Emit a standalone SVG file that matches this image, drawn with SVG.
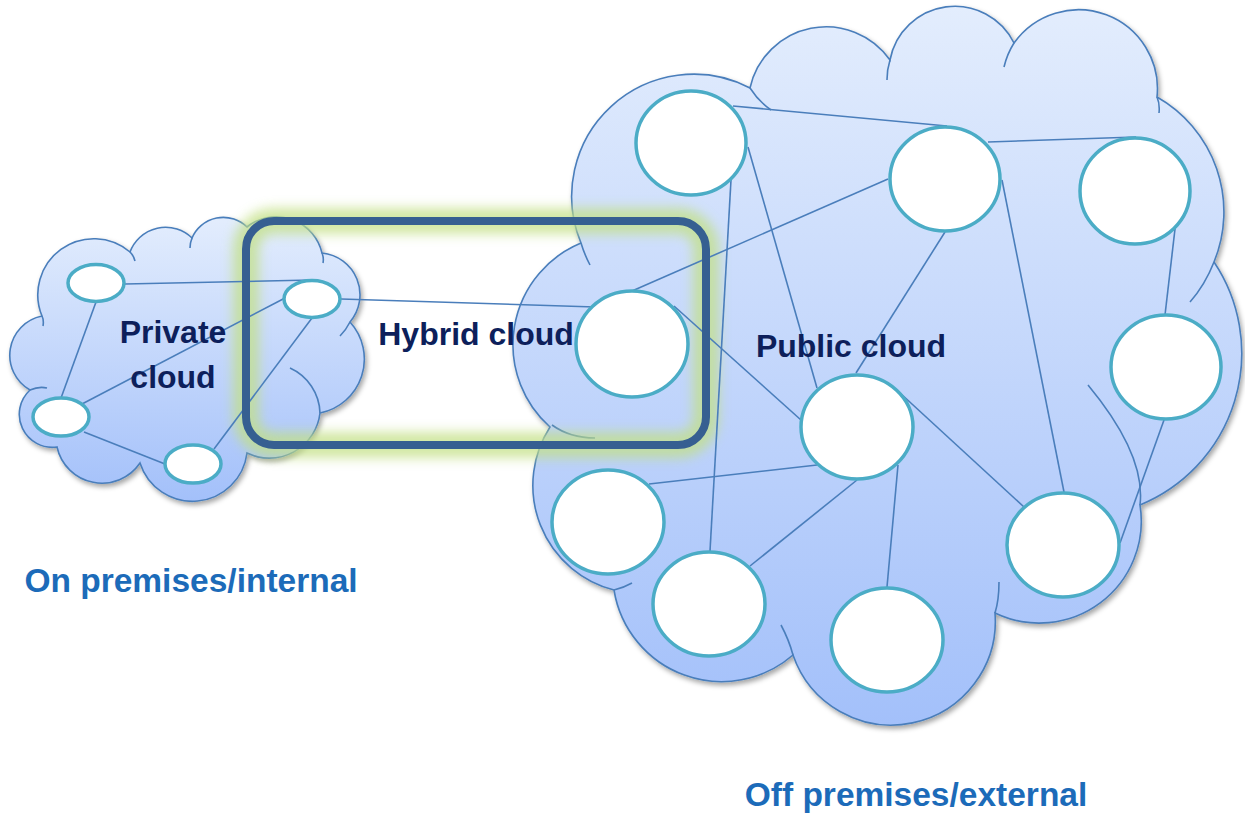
<svg xmlns="http://www.w3.org/2000/svg" width="1245" height="840" viewBox="0 0 1245 840">
<defs>
  <linearGradient id="cloudFill" x1="0" y1="0" x2="0" y2="1">
    <stop offset="0" stop-color="#e3edfd"/>
    <stop offset="1" stop-color="#a3c0fa"/>
  </linearGradient>
  <filter id="shadow" x="-10%" y="-10%" width="120%" height="125%">
    <feDropShadow dx="2" dy="3" stdDeviation="2.5" flood-color="#000" flood-opacity="0.35"/>
  </filter>
  <filter id="glow" x="-20%" y="-30%" width="140%" height="160%">
    <feGaussianBlur stdDeviation="6"/>
  </filter>
  <style>
    .cloud { fill: url(#cloudFill); stroke: #4a7ebb; stroke-width: 1.6; }
    .inner { fill: none; stroke: #4a7ebb; stroke-width: 1.6; }
    .edge { stroke: #4a7ebb; stroke-width: 1.6; fill: none; }
    .node { fill: #ffffff; stroke: #4bacc6; stroke-width: 3.5; }
    .label { font-family: "Liberation Sans", Arial, sans-serif; font-weight: bold; text-anchor: middle; }
    .cl { fill: #0d1f5b; font-size: 32px; }
    .loc { fill: #1c6bb9; font-size: 33.5px; }
  </style>
</defs>

<g id="private-cloud">
  <path class="cloud" filter="url(#shadow)" d="M 42 316 A 56 56 0 0 1 130 252 A 38 38 0 0 1 192 238 A 34 34 0 0 1 247 227 A 47 47 0 0 1 322 253 A 42 42 0 0 1 350 322 A 55 55 0 0 1 320 413 A 51 51 0 0 1 247 453 A 55 55 0 0 1 140 463 A 46 46 0 0 1 57 447 A 33 33 0 0 1 30 390 A 40 40 0 0 1 42 316 Z"/>
  <path class="inner" d="M 42 316 Q 44 320 43 326 M 130 252 Q 134 256 135 261 M 192 238 Q 190 243 190 248 M 322 253 Q 324 258 323 263 M 350 322 Q 346 330 340 336 M 290 368 A 51 51 0 0 1 320 413 M 30 390 Q 39 386 47 388"/>
</g>

<g id="public-cloud">
  <path class="cloud" filter="url(#shadow)" d="M 581 243 A 122 122 0 0 1 750 88 A 78 78 0 0 1 890 60 A 66 66 0 0 1 1014 43 A 79 79 0 0 1 1157 97 A 132 132 0 0 1 1214 262 A 164 164 0 0 1 1140 505 A 102 102 0 0 1 995 613 A 104 104 0 0 1 793 655 A 109 109 0 0 1 614 590 A 108 108 0 0 1 550 427 A 110 110 0 0 1 581 243 Z"/>
  <path class="inner" d="M 590 265 A 122 122 0 0 1 581 243 M 771 110 A 78 78 0 0 1 750 88 M 887 80 A 66 66 0 0 1 890 60 M 1004 67 A 79 79 0 0 1 1014 43 M 1157 97 Q 1160 104 1159 113 M 1214 262 Q 1205 285 1190 302 M 1088 385 Q 1146 455 1140 505 M 999 582 Q 999 600 995 613 M 781 625 Q 789 640 793 655 M 614 590 Q 623 588 632 583 M 552 425 Q 570 438 595 438"/>
</g>

<g id="hybrid-glow">
  <rect x="246" y="221" width="460" height="224" rx="28" ry="28" fill="none" stroke="#c2e084" stroke-width="26" opacity="0.75" filter="url(#glow)"/>
</g>

<g id="connectors">
  <line class="edge" x1="125" y1="284" x2="312" y2="280"/>
  <line class="edge" x1="96" y1="302" x2="61" y2="398"/>
  <line class="edge" x1="82" y1="404" x2="285" y2="298"/>
  <line class="edge" x1="84" y1="432" x2="165" y2="464"/>
  <line class="edge" x1="214" y1="449" x2="312" y2="318"/>
  <line class="edge" x1="341" y1="299" x2="595" y2="307"/>
  <line class="edge" x1="733" y1="106" x2="947" y2="126"/>
  <line class="edge" x1="731" y1="180" x2="710" y2="551"/>
  <line class="edge" x1="748" y1="147" x2="817" y2="388"/>
  <line class="edge" x1="988" y1="142" x2="1136" y2="137"/>
  <line class="edge" x1="888" y1="179" x2="632" y2="291"/>
  <line class="edge" x1="945" y1="232" x2="856" y2="373"/>
  <line class="edge" x1="1002" y1="180" x2="1064" y2="492"/>
  <line class="edge" x1="1175" y1="229" x2="1165" y2="315"/>
  <line class="edge" x1="674" y1="306" x2="801" y2="420"/>
  <line class="edge" x1="817" y1="465" x2="649" y2="484"/>
  <line class="edge" x1="857" y1="480" x2="750" y2="566"/>
  <line class="edge" x1="898" y1="465" x2="887" y2="587"/>
  <line class="edge" x1="900" y1="393" x2="1024" y2="507"/>
  <line class="edge" x1="1164" y1="420" x2="1120" y2="543"/>
</g>

<g id="hybrid-box">
  <rect x="246" y="221" width="460" height="224" rx="28" ry="28" fill="none" stroke="#365f91" stroke-width="8"/>
</g>

<g id="node-a"><ellipse class="node" cx="96" cy="283" rx="28" ry="18.5"/></g>
<g id="node-b"><ellipse class="node" cx="312" cy="299" rx="28" ry="18.5"/></g>
<g id="node-c"><ellipse class="node" cx="61" cy="417" rx="28" ry="19"/></g>
<g id="node-d"><ellipse class="node" cx="193" cy="464" rx="28" ry="19"/></g>

<g id="node-p1"><ellipse class="node" cx="691" cy="143" rx="55" ry="52"/></g>
<g id="node-p2"><ellipse class="node" cx="945" cy="179" rx="55" ry="52"/></g>
<g id="node-p3"><ellipse class="node" cx="1135" cy="191" rx="55" ry="53"/></g>
<g id="node-p4"><ellipse class="node" cx="632" cy="344" rx="56" ry="53"/></g>
<g id="node-p5"><ellipse class="node" cx="1166" cy="367" rx="55" ry="52"/></g>
<g id="node-p6"><ellipse class="node" cx="857" cy="427" rx="56" ry="52"/></g>
<g id="node-p7"><ellipse class="node" cx="608" cy="522" rx="56" ry="52"/></g>
<g id="node-p8"><ellipse class="node" cx="709" cy="604" rx="56" ry="52"/></g>
<g id="node-p9"><ellipse class="node" cx="887" cy="640" rx="56" ry="52"/></g>
<g id="node-p10"><ellipse class="node" cx="1063" cy="545" rx="56" ry="52"/></g>

<g id="labels">
  <text class="label cl" x="173" y="343">Private</text>
  <text class="label cl" x="173" y="388">cloud</text>
  <text class="label cl" x="476" y="345">Hybrid cloud</text>
  <text class="label cl" x="851" y="357">Public cloud</text>
  <text class="label loc" x="191" y="592">On premises/internal</text>
  <text class="label loc" x="916" y="806">Off premises/external</text>
</g>
</svg>
